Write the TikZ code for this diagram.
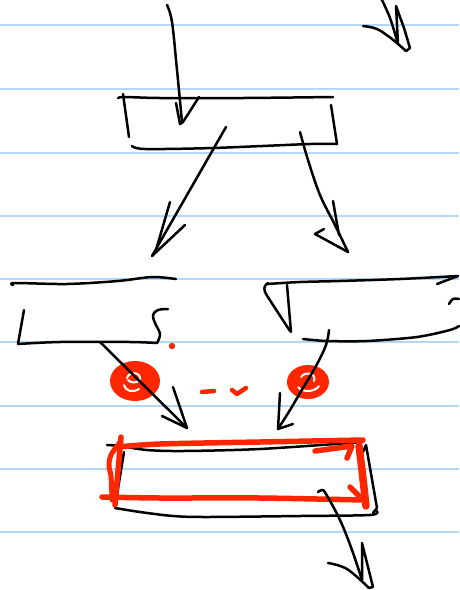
\documentclass[tikz,border=0pt]{standalone}
\definecolor{ruleblue}{RGB}{178,216,248}
\definecolor{inkred}{RGB}{255,38,0}
\tikzset{
  ink/.style={line width=2.5pt, line cap=round, line join=round, black},
  redink/.style={line width=5.5pt, line cap=round, line join=round, inkred},
  rule/.style={line width=2pt, ruleblue},
  swirl/.style={white, line width=2pt, line cap=round}
}
\begin{document}
\begin{tikzpicture}[x=1pt,y=-1pt]
\useasboundingbox (0,0) rectangle (459,590);
\fill[white] (0,0) rectangle (459,590);
% ruled lines
\foreach \yy in {25,89,152.5,216,279,342,405.5,469,532}
  \draw[rule] (0,\yy) -- (459,\yy);

% named points
\coordinate (topStart) at (167,5);
\coordinate (topBoxIn) at (182,122);
\coordinate (trStart) at (381,-2);
\coordinate (trEnd) at (398,44);

% top-left incoming arrow
\draw[ink] plot[smooth,tension=0.6] coordinates {(topStart) (172,22) (177,70) (topBoxIn)};
\draw[ink] (176,103) -- (180,124) -- (183,122) -- (199,97);

% top-right arrow
\draw[ink] plot[smooth,tension=0.6] coordinates {(trStart) (390,18) (trEnd)};
\draw[ink] (trEnd) -- (396,6) -- (404,28) -- (410,48) -- (406,51);
\draw[ink] plot[smooth,tension=0.6] coordinates {(363,26) (377,29) (392,39) (406,51)};

% top box
\draw[ink] plot[smooth,tension=0.5] coordinates {(118,98) (125,97) (160,98) (243,98) (333,97)};
\draw[ink] (123,94) -- (129,137);
\draw[ink] plot[smooth,tension=0.5] coordinates {(132,146) (145,149) (213,148) (310,144) (337,144)};
\draw[ink] (331,105) -- (337,144);

% arrow top box -> middle left
\coordinate (tbL) at (226,127);
\coordinate (mlIn) at (152,256);
\draw[ink] (tbL) -- (mlIn);
\draw[ink] (170,202) -- (156,250);
\draw[ink] (185,225) -- (mlIn);

% arrow top box -> middle right
\coordinate (tbR) at (300,132);
\coordinate (mrIn) at (348,252);
\draw[ink] plot[smooth,tension=0.6] coordinates {(tbR) (308,160) (320,195) (335,225) (mrIn)};
\draw[ink] (333,201) -- (339,235);
\draw[ink] (324,229) -- (315,234) -- (mrIn);

% middle-left box
\draw[ink] plot[smooth,tension=0.5] coordinates {(13,285) (15,283) (67,284) (118,281) (152,277) (176,279)};
\draw[ink] (24,310) -- (18,344);
\draw[ink] plot[smooth,tension=0.5] coordinates {(18,344) (60,342) (130,342) (157,343)};
\draw[ink] plot[smooth,tension=0.6] coordinates {(157,343) (160,334) (155,323) (153,315) (158,310) (168,309)};

% middle-right box
\draw[ink] plot[smooth,tension=0.5] coordinates {(267,284) (300,282) (340,281) (400,279) (458,276)};
\draw[ink] (437,284) -- (458,276);
\draw[ink] plot[smooth,tension=0.5] coordinates {(268,283) (265,286) (265,292) (275,308) (290,331)};
\draw[ink] (287,285) -- (291,332);
\draw[ink] plot[smooth,tension=0.5] coordinates {(303,339) (327,341) (367,341) (417,337) (450,330) (459,326)};
\draw[ink] plot[smooth,tension=0.6] coordinates {(449,304) (453,299) (459,299)};

% red circles and marks
\fill[inkred] (135,381) ellipse [x radius=25, y radius=20];
\fill[inkred] (308,382) ellipse [x radius=21, y radius=17];
\draw[swirl] (127,378) .. controls (129,371) and (141,372) .. (140,379) .. controls (138,384) and (130,383) .. (128,380);
\draw[swirl] (124,385) .. controls (125,391) and (133,393) .. (139,389);
\draw[swirl] (301,377) .. controls (305,371) and (317,373) .. (314,381);
\draw[swirl] (298,387) .. controls (303,393) and (315,392) .. (319,386);

\fill[inkred] (172,346) circle (3.2);
\draw[redink, line width=4.5pt] (202,392) -- (214,391);
\draw[redink, line width=4.5pt] (232,390) -- (237,394) -- (246,388);

% arrow middle-left -> bottom box
\coordinate (mlOut) at (100,342);
\coordinate (bbInL) at (187,428);
\draw[ink] (mlOut) -- (bbInL);
\draw[ink] (173,387) -- (bbInL);
\draw[ink] (162,416) -- (bbInL);

% arrow middle-right -> bottom box
\coordinate (mrOut) at (329,330);
\coordinate (bbInR) at (278,429);
\draw[ink] plot[smooth,tension=0.6] coordinates {(mrOut) (326,345) (316,366) (300,393) (290,410) (bbInR)};
\draw[ink] (280,393) -- (bbInR) -- (293,424);

% bottom box (black)
\draw[ink] plot[smooth,tension=0.5] coordinates {(107,445) (120,446) (147,450) (183,451) (260,449) (363,442)};
\draw[ink] (124,452) -- (115,507);
\draw[ink] plot[smooth,tension=0.5] coordinates {(115,508) (140,512) (173,516) (207,517) (300,516) (370,515) (377,511)};
\draw[ink] (363,452) -- (366,445) -- (377,508) -- (373,513);

% bottom box (red overlay)
\draw[redink] plot[smooth,tension=0.5] coordinates {(118,447) (160,444) (260,442) (363,440)};
\draw[redink] (121,437) -- (115,505);
\draw[redink, line width=5pt] plot[smooth,tension=0.6] coordinates {(121,441) (111,455) (109,467) (111,476) (112,500)};
\draw[redink] plot[smooth,tension=0.5] coordinates {(102,497) (160,498) (260,498) (363,500)};
\draw[redink] (350,487) -- (363,500);
\draw[redink, line width=7.5pt] (359,446) -- (362,470) -- (366,506);
\draw[redink] (315,451) -- (352,446) -- (347,458);

% outgoing arrow from bottom box
\coordinate (bbOut) at (318,492);
\coordinate (endTip) at (362,580);
\draw[ink] plot[smooth,tension=0.6] coordinates {(bbOut) (322,490) (326,494) (340,520) (352,550) (endTip)};
\draw[ink] (endTip) -- (362,543) -- (373,587) -- (369,588);
\draw[ink] plot[smooth,tension=0.6] coordinates {(328,563) (347,569) (369,588)};
\end{tikzpicture}
\end{document}
